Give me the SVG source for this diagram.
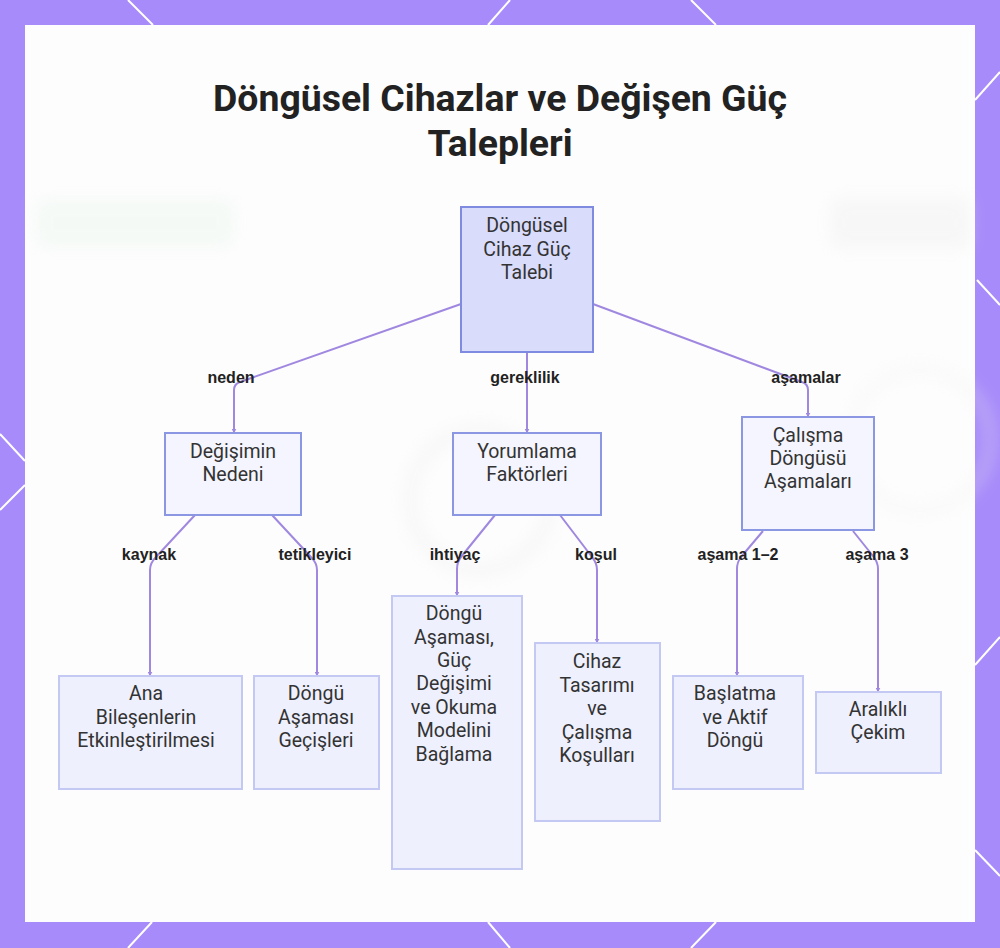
<svg xmlns="http://www.w3.org/2000/svg" width="1000" height="948" viewBox="0 0 1000 948">
<defs>
<style>
.frame-line{stroke:#ffffff;stroke-width:2;fill:none}
.n1{fill:#d9dcfb;stroke:#7f8be0;stroke-width:2}
.n2{fill:#f4f5fe;stroke:#8c97e3;stroke-width:2}
.n3{fill:#eef0fd;stroke:#c3c9f3;stroke-width:2}
.nt{font-family:Roboto,"Noto Sans",sans-serif;font-size:19.5px;fill:#333333;text-anchor:middle}
.el{font-family:"Liberation Sans",Arial,sans-serif;font-size:16px;font-weight:bold;fill:#222222;text-anchor:middle}
.edge{stroke:#a088e0;stroke-width:2;fill:none}
.title{font-family:Roboto,"Noto Sans",sans-serif;font-size:37.4px;font-weight:bold;fill:#222222;text-anchor:middle}
</style>
<marker id="arr" viewBox="0 0 10 10" refX="9" refY="5" markerWidth="2.5" markerHeight="2.5" orient="auto">
<path d="M0,0 L10,5 L0,10 z" fill="#a088e0"/>
</marker>
<filter id="blur" x="-20%" y="-50%" width="140%" height="200%"><feGaussianBlur stdDeviation="8"/></filter>
</defs>
<rect x="0" y="0" width="1000" height="948" fill="#a78bfa"/>
<g class="frame-line">
<line x1="128" y1="0" x2="153" y2="25"/>
<line x1="510" y1="0" x2="488" y2="25"/>
<line x1="691" y1="0" x2="716" y2="25"/>
<line x1="1000" y1="72" x2="975" y2="100"/>
<line x1="0" y1="434" x2="25" y2="461"/>
<line x1="25" y1="485" x2="0" y2="510"/>
<line x1="977" y1="280" x2="1000" y2="305"/>
<line x1="975" y1="665" x2="1000" y2="637"/>
<line x1="975" y1="850" x2="1000" y2="876"/>
<line x1="128" y1="948" x2="152" y2="922"/>
<line x1="488" y1="922" x2="510" y2="948"/>
<line x1="716" y1="922" x2="691" y2="948"/>
</g>
<rect x="25" y="25" width="950" height="897" fill="#fdfdfd"/>
<g filter="url(#blur)" opacity="0.35">
<rect x="35" y="198" width="200" height="50" rx="8" fill="#e6f4ea"/>
<rect x="830" y="198" width="140" height="50" rx="8" fill="#ececec"/>
<circle cx="480" cy="500" r="70" fill="none" stroke="#ececec" stroke-width="14"/>
<circle cx="920" cy="440" r="70" fill="none" stroke="#f0f0f0" stroke-width="10"/>
</g>
<text class="title" x="500" y="111">Döngüsel Cihazlar ve Değişen Güç</text>
<text class="title" x="500" y="156">Talepleri</text>
<g id="connectors">
<path class="edge" marker-end="url(#arr)" d="M461,304 L240,382 Q234,384 234,390 L234,433"/>
<path class="edge" marker-end="url(#arr)" d="M527,352 L527,433"/>
<path class="edge" marker-end="url(#arr)" d="M593,304 L802,382 Q808,384 808,390 L808,417"/>
<path class="edge" marker-end="url(#arr)" d="M195,515 L156,557 Q150,563 150,570 L150,676"/>
<path class="edge" marker-end="url(#arr)" d="M272,515 L311,557 Q317,563 317,570 L317,676"/>
<path class="edge" marker-end="url(#arr)" d="M495,515 L461,557 Q457,562 457,569 L457,596"/>
<path class="edge" marker-end="url(#arr)" d="M560,515 L592,557 Q597,563 597,570 L597,643"/>
<path class="edge" marker-end="url(#arr)" d="M763,531 L741,557 Q737,562 737,569 L737,676"/>
<path class="edge" marker-end="url(#arr)" d="M853,531 L873,556 Q878,562 878,569 L878,692"/>
<text class="el" x="231" y="383">neden</text>
<text class="el" x="525" y="383">gereklilik</text>
<text class="el" x="806" y="383">aşamalar</text>
<text class="el" x="149" y="560">kaynak</text>
<text class="el" x="315" y="560">tetikleyici</text>
<text class="el" x="455" y="560">ihtiyaç</text>
<text class="el" x="596" y="560">koşul</text>
<text class="el" x="738" y="560">aşama 1–2</text>
<text class="el" x="877" y="560">aşama 3</text>
</g>
<g id="root">
<rect class="n1" x="461" y="207" width="132" height="145"/>
<text class="nt" x="527" y="232">Döngüsel</text>
<text class="nt" x="527" y="256">Cihaz Güç</text>
<text class="nt" x="527" y="279">Talebi</text>
</g>
<g id="neden">
<rect class="n2" x="165" y="433" width="136" height="82"/>
<text class="nt" x="233" y="458">Değişimin</text>
<text class="nt" x="233" y="481">Nedeni</text>
</g>
<g id="yorum">
<rect class="n2" x="453" y="433" width="148" height="82"/>
<text class="nt" x="527" y="458">Yorumlama</text>
<text class="nt" x="527" y="481">Faktörleri</text>
</g>
<g id="asamalar">
<rect class="n2" x="742" y="417" width="132" height="113"/>
<text class="nt" x="808" y="442">Çalışma</text>
<text class="nt" x="808" y="465">Döngüsü</text>
<text class="nt" x="808" y="488">Aşamaları</text>
</g>
<g id="ana">
<rect class="n3" x="59" y="676" width="183" height="113"/>
<text class="nt" x="146" y="700">Ana</text>
<text class="nt" x="146" y="724">Bileşenlerin</text>
<text class="nt" x="146" y="747">Etkinleştirilmesi</text>
</g>
<g id="gecis">
<rect class="n3" x="254" y="676" width="125" height="113"/>
<text class="nt" x="316" y="700">Döngü</text>
<text class="nt" x="316" y="724">Aşaması</text>
<text class="nt" x="316" y="747">Geçişleri</text>
</g>
<g id="baglama">
<rect class="n3" x="392" y="596" width="130" height="273"/>
<text class="nt" x="454" y="620">Döngü</text>
<text class="nt" x="454" y="644">Aşaması,</text>
<text class="nt" x="454" y="667">Güç</text>
<text class="nt" x="454" y="690">Değişimi</text>
<text class="nt" x="454" y="714">ve Okuma</text>
<text class="nt" x="454" y="737">Modelini</text>
<text class="nt" x="454" y="761">Bağlama</text>
</g>
<g id="cihaz">
<rect class="n3" x="535" y="643" width="125" height="178"/>
<text class="nt" x="597" y="668">Cihaz</text>
<text class="nt" x="597" y="692">Tasarımı</text>
<text class="nt" x="597" y="715">ve</text>
<text class="nt" x="597" y="739">Çalışma</text>
<text class="nt" x="597" y="762">Koşulları</text>
</g>
<g id="baslatma">
<rect class="n3" x="673" y="676" width="130" height="113"/>
<text class="nt" x="735" y="700">Başlatma</text>
<text class="nt" x="735" y="724">ve Aktif</text>
<text class="nt" x="735" y="747">Döngü</text>
</g>
<g id="aralikli">
<rect class="n3" x="816" y="692" width="125" height="81"/>
<text class="nt" x="878" y="716">Aralıklı</text>
<text class="nt" x="878" y="739">Çekim</text>
</g>
</svg>
